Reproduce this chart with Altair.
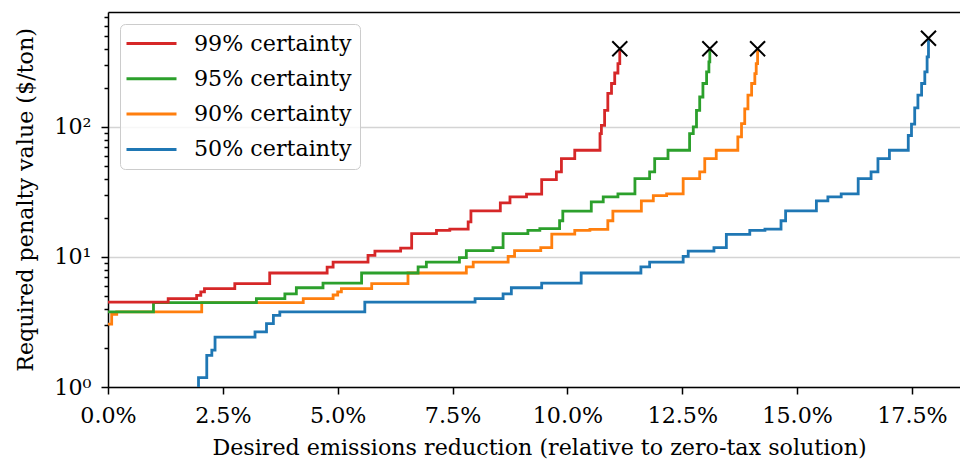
import altair as alt
import pandas as pd

SERIES = ["99% certainty", "95% certainty", "90% certainty", "50% certainty"]
COLORS = ["#d62728", "#2ca02c", "#ff7f0e", "#1f77b4"]

# Emission reduction (%) at which each penalty level ($/ton) starts to hold
red_x = [0, 1.31, 1.93, 2.02, 2.10, 2.76, 3.52, 4.77, 4.90, 5.66, 5.81, 6.37, 6.61, 7.15,
         7.44, 7.84, 7.90, 8.54, 8.75, 9.11, 9.44, 9.76, 9.87, 10.16, 10.71, 10.74, 10.81,
         10.88, 10.96, 11.03, 11.10, 11.14]
red_y = [4.5, 4.79, 5.07, 5.4, 5.71, 6.24, 7.53, 8.35, 9.13, 10.3, 11.1, 11.7, 15.1, 16.0,
         16.4, 18.6, 22.6, 26.1, 29.0, 30.4, 39.4, 45.1, 57.1, 66.2, 89, 103, 134,
         181, 216, 260, 307, 400]

green_x = [0, 0.99, 3.23, 3.85, 4.10, 4.68, 5.52, 6.75, 6.93, 7.65, 7.80, 8.38, 8.60, 9.14,
           9.40, 9.83, 9.90, 10.52, 10.78, 11.10, 11.47, 11.79, 11.90, 12.19, 12.66, 12.74,
           12.81, 12.88, 12.95, 13.03, 13.08, 13.10]
green_y = [3.78, 4.46, 4.79, 5.2, 5.8, 6.3, 7.53, 8.4, 9.13, 9.9, 11.2, 11.8, 15.1, 16.0,
           16.5, 19.0, 22.5, 26.5, 29.0, 30.6, 40.1, 45.1, 57.1, 66.2, 89, 100,
           134, 170, 216, 265, 317, 400]

orange_x = [0, 0.08, 0.19, 2.04, 4.25, 4.90, 5.00, 5.08, 5.74, 6.53, 7.80, 7.95, 8.71, 8.85,
            9.42, 9.66, 10.16, 10.49, 10.88, 10.99, 11.61, 11.87, 12.16, 12.52, 12.88, 12.99,
            13.24, 13.71, 13.79, 13.86, 13.93, 14.01, 14.08, 14.11, 14.14]
orange_y = [3.04, 3.62, 3.78, 4.46, 4.79, 5.1, 5.4, 5.71, 6.24, 7.53, 8.4, 9.13, 10.1, 11.2,
            11.8, 15.0, 16.0, 16.3, 19.0, 22.5, 27.0, 29.6, 30.6, 40.1, 45.1, 57.1,
            66.2, 83.8, 106, 138, 176, 216, 257, 307, 400]

blue_x = [1.97, 1.97, 2.15, 2.26, 2.33, 3.20, 3.45, 3.60, 3.74, 5.59, 7.99, 8.60, 8.78, 9.44,
          10.30, 11.60, 11.79, 12.52, 12.63, 13.19, 13.46, 13.97, 14.30, 14.65, 14.75, 15.42,
          15.67, 15.96, 16.33, 16.61, 16.76, 17.01, 17.42, 17.49, 17.56, 17.63, 17.71, 17.78,
          17.83, 17.86]
blue_y = [1.0, 1.18, 1.75, 1.92, 2.42, 2.65, 3.07, 3.56, 3.78, 4.5, 4.79, 5.2, 5.8, 6.3,
          7.53, 8.4, 9.13, 10.1, 11.1, 11.8, 14.9, 16.0, 16.4, 19.0, 22.6, 27.0,
          29.0, 30.6, 40.1, 45.1, 57.1, 66.2, 86, 105, 140, 176, 216, 265,
          346, 481]

X_TICKS = [0, 0.025, 0.05, 0.075, 0.10, 0.125, 0.15, 0.175]
Y_MAJOR = [1, 10, 100]
Y_MINOR = [2, 3, 4, 5, 6, 7, 8, 9, 20, 30, 40, 50, 60, 70, 80, 90, 200, 300, 400, 500, 600, 700]

FONT = "DejaVu Serif"
FS = 22.2
W, H = 852, 375

# draw order: 50% first so the higher-certainty curves sit on top
curves = [
    ("50% certainty", blue_x, blue_y),
    ("90% certainty", orange_x, orange_y),
    ("95% certainty", green_x, green_y),
    ("99% certainty", red_x, red_y),
]
rows, ends = [], []
for name, xs, ys in curves:
    for i, (xv, yv) in enumerate(zip(xs, ys)):
        rows.append({"series": name, "i": i, "reduction": xv / 100, "penalty": yv})
    ends.append({"series": name, "reduction": xs[-1] / 100, "penalty": ys[-1]})
df = pd.DataFrame(rows)
df_end = pd.DataFrame(ends)

x_scale = alt.Scale(domain=[0, 0.18546], nice=False, zero=False)
y_scale = alt.Scale(type="log", domain=[1, 766], nice=False)

lines = alt.Chart(df).mark_line(interpolate="step-after", strokeWidth=2.8).encode(
    x=alt.X("reduction:Q", scale=x_scale,
            axis=alt.Axis(values=X_TICKS, format=".1%", orient="bottom", grid=False,
                          tickSize=7, labelPadding=10, labelFlush=False,
                          title="Desired emissions reduction (relative to zero-tax solution)",
                          titleX=431, titleY=67, titleBaseline="alphabetic",
                          titleAnchor="middle", titleAlign="center")),
    y=alt.Y("penalty:Q", scale=y_scale,
            axis=alt.Axis(values=Y_MAJOR, orient="left", tickSize=7, labelPadding=10,
                          labelExpr="datum.value == 1 ? '10⁰' : datum.value == 10 ? '10¹' : '10²'",
                          grid=True, gridColor="#d4d4d4", gridWidth=1.5,
                          title="Required penalty value ($/ton)",
                          titleX=-76, titleY=H / 2, titleBaseline="alphabetic",
                          titleAlign="center", titleAngle=-90)),
    color=alt.Color("series:N",
                    scale=alt.Scale(domain=SERIES, range=COLORS),
                    legend=alt.Legend(orient="none", legendX=12, legendY=12, title=None,
                                      symbolType="M-2.5,0H2.5", symbolSize=400,
                                      symbolStrokeWidth=3, symbolOffset=12,
                                      labelOffset=31, labelFontSize=FS, labelFont=FONT,
                                      labelColor="black", rowPadding=12.3, padding=8,
                                      fillColor="rgba(255,255,255,0.8)",
                                      strokeColor="#cccccc", cornerRadius=5)),
    order=alt.Order("i:Q"),
)

# end-of-curve markers; this layer also carries the minor y ticks and the top spine
markers = alt.Chart(df_end).mark_point(
    shape="M-1,-1L1,1M1,-1L-1,1", size=225, filled=False, color="black",
    strokeWidth=2, opacity=1,
).encode(
    x=alt.X("reduction:Q", scale=x_scale,
            axis=alt.Axis(orient="top", labels=False, ticks=False, grid=False,
                          domain=True, title=None)),
    y=alt.Y("penalty:Q", scale=y_scale,
            axis=alt.Axis(values=Y_MINOR, orient="left", tickSize=4, labels=False,
                          grid=False, domain=False, title=None)),
)

chart = alt.layer(lines, markers).resolve_axis(x="independent", y="independent").properties(
    width=W, height=H,
    autosize=alt.AutoSizeParams(type="none"),
    padding={"left": 108, "top": 12, "right": 0, "bottom": 74},
).configure(font=FONT).configure_view(stroke=None).configure_axis(
    labelFont=FONT, labelFontSize=FS, labelColor="black",
    titleFont=FONT, titleFontSize=FS, titleFontWeight="normal", titleColor="black",
    domainColor="black", domainWidth=1.5, tickColor="black", tickWidth=1.5,
)

chart.save("out.html", embed_options={"renderer": "svg", "actions": False})
